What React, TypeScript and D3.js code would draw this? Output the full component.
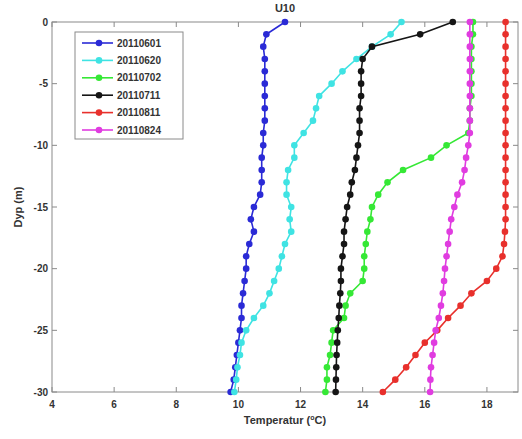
import React from "react";
import * as d3 from "d3";

const depths = [0,-1,-2,-3,-4,-5,-6,-7,-8,-9,-10,-11,-12,-13,-14,-15,-16,-17,-18,-19,-20,-21,-22,-23,-24,-25,-26,-27,-28,-29,-30];

const seriesNames = ["20110601","20110620","20110702","20110711","20110811","20110824"];
const seriesColors = ["#2a2ad6","#3fe3e3","#35e835","#151515","#e8302c","#e03ce0"];

const t20110601 = [11.5,10.9,10.8,10.85,10.85,10.85,10.85,10.85,10.85,10.8,10.8,10.75,10.75,10.75,10.7,10.5,10.4,10.5,10.35,10.25,10.25,10.2,10.15,10.1,10.1,10.05,10.0,9.95,9.9,9.85,9.75];
const t20110620 = [15.25,14.9,14.3,13.8,13.35,13.0,12.6,12.5,12.4,12.1,11.8,11.8,11.6,11.55,11.55,11.7,11.65,11.7,11.5,11.4,11.3,11.15,11.0,10.8,10.5,10.25,10.1,10.05,9.97,9.93,9.87];
const t20110702 = [17.55,17.55,17.5,17.5,17.5,17.5,17.5,17.45,17.45,17.4,16.7,16.2,15.3,14.8,14.5,14.3,14.25,14.15,14.1,14.05,14.05,14.0,13.6,13.45,13.4,13.05,13.0,12.95,12.85,12.85,12.8];
const t20110711 = [16.9,15.85,14.3,14.0,13.95,13.95,13.95,13.9,13.9,13.9,13.85,13.8,13.75,13.65,13.6,13.5,13.45,13.4,13.4,13.35,13.3,13.3,13.28,13.25,13.23,13.2,13.18,13.16,13.15,13.14,13.13];
const t20110811 = [18.6,18.6,18.6,18.6,18.6,18.6,18.6,18.6,18.6,18.6,18.6,18.6,18.6,18.6,18.6,18.6,18.6,18.58,18.55,18.5,18.3,18.0,17.5,17.15,16.75,16.4,16.0,15.7,15.4,15.05,14.65];
const t20110824 = [17.45,17.45,17.45,17.45,17.45,17.45,17.45,17.45,17.45,17.45,17.4,17.33,17.28,17.2,17.05,16.95,16.85,16.8,16.75,16.7,16.65,16.62,16.58,16.52,16.45,16.35,16.3,16.25,16.2,16.18,16.17];

const seriesValues = [t20110601, t20110620, t20110702, t20110711, t20110811, t20110824];

const xTicks = [4,6,8,10,12,14,16,18];
const yTicks = [0,-5,-10,-15,-20,-25,-30];

export default function App() {
  const W = 522, H = 439;
  const left = 52, right = 518, top = 22, bottom = 392;
  const x = d3.scaleLinear().domain([4, 19]).range([left, right]);
  const y = d3.scaleLinear().domain([-30, 0]).range([bottom, top]);
  const line = d3.line<[number, number]>().x(d => x(d[0])).y(d => y(d[1]));
  const axisColor = "#8a8a8a";
  const textColor = "#333";
  const font = "'Liberation Sans', Arial, sans-serif";

  const legendX = 75, legendY = 32, legendW = 108, legendH = 107;

  return (
    <svg width={W} height={H} style={{ position: "absolute", left: 0, top: 0, background: "#fff" }} fontFamily={font}>
      <rect x={0} y={0} width={W} height={H} fill="#fff" />
      {/* frame */}
      <rect x={left} y={top} width={right - left} height={bottom - top} fill="none" stroke={axisColor} strokeWidth={1} />
      {xTicks.map(t => (
        <g key={"xt" + t}>
          <line x1={x(t)} x2={x(t)} y1={bottom} y2={bottom - 5} stroke={axisColor} />
          <line x1={x(t)} x2={x(t)} y1={top} y2={top + 5} stroke={axisColor} />
          <text x={x(t)} y={408} textAnchor="middle" fontSize={10} fontWeight="bold" fill={textColor}>{t}</text>
        </g>
      ))}
      {yTicks.map(t => (
        <g key={"yt" + t}>
          <line x1={left} x2={left + 5} y1={y(t)} y2={y(t)} stroke={axisColor} />
          <line x1={right} x2={right - 5} y1={y(t)} y2={y(t)} stroke={axisColor} />
          <text x={48} y={y(t) + 3.5} textAnchor="end" fontSize={10} fontWeight="bold" fill={textColor}>{t}</text>
        </g>
      ))}
      {/* series */}
      {seriesValues.map((vals, i) => {
        const pts: [number, number][] = vals.map((v, j) => [v, depths[j]]);
        return (
          <g key={"s" + i}>
            <path d={line(pts) || ""} fill="none" stroke={seriesColors[i]} strokeWidth={1.6} />
            {pts.map((p, j) => (
              <circle key={j} cx={x(p[0])} cy={y(p[1])} r={3.3} fill={seriesColors[i]} />
            ))}
          </g>
        );
      })}
      {/* title & labels */}
      <text x={(left + right) / 2} y={12} textAnchor="middle" fontSize={11} fontWeight="bold" fill={textColor}>U10</text>
      <text x={(left + right) / 2} y={424} textAnchor="middle" fontSize={11} fontWeight="bold" fill={textColor}>
        Temperatur (<tspan dy={-4} fontSize={7}>o</tspan><tspan dy={4}>C)</tspan>
      </text>
      <text transform={`translate(22,${(top + bottom) / 2}) rotate(-90)`} textAnchor="middle" fontSize={11} fontWeight="bold" fill={textColor}>Dyp (m)</text>
      {/* legend */}
      <rect x={legendX} y={legendY} width={legendW} height={legendH} fill="#fff" stroke={axisColor} />
      {seriesNames.map((n, i) => {
        const ly = legendY + 11 + i * 17.4;
        return (
          <g key={"lg" + i}>
            <line x1={legendX + 7} x2={legendX + 38} y1={ly} y2={ly} stroke={seriesColors[i]} strokeWidth={1.6} />
            <circle cx={legendX + 24} cy={ly} r={3.3} fill={seriesColors[i]} />
            <text x={legendX + 42} y={ly + 3.5} fontSize={10} fontWeight="bold" fill={textColor}>{n}</text>
          </g>
        );
      })}
    </svg>
  );
}
